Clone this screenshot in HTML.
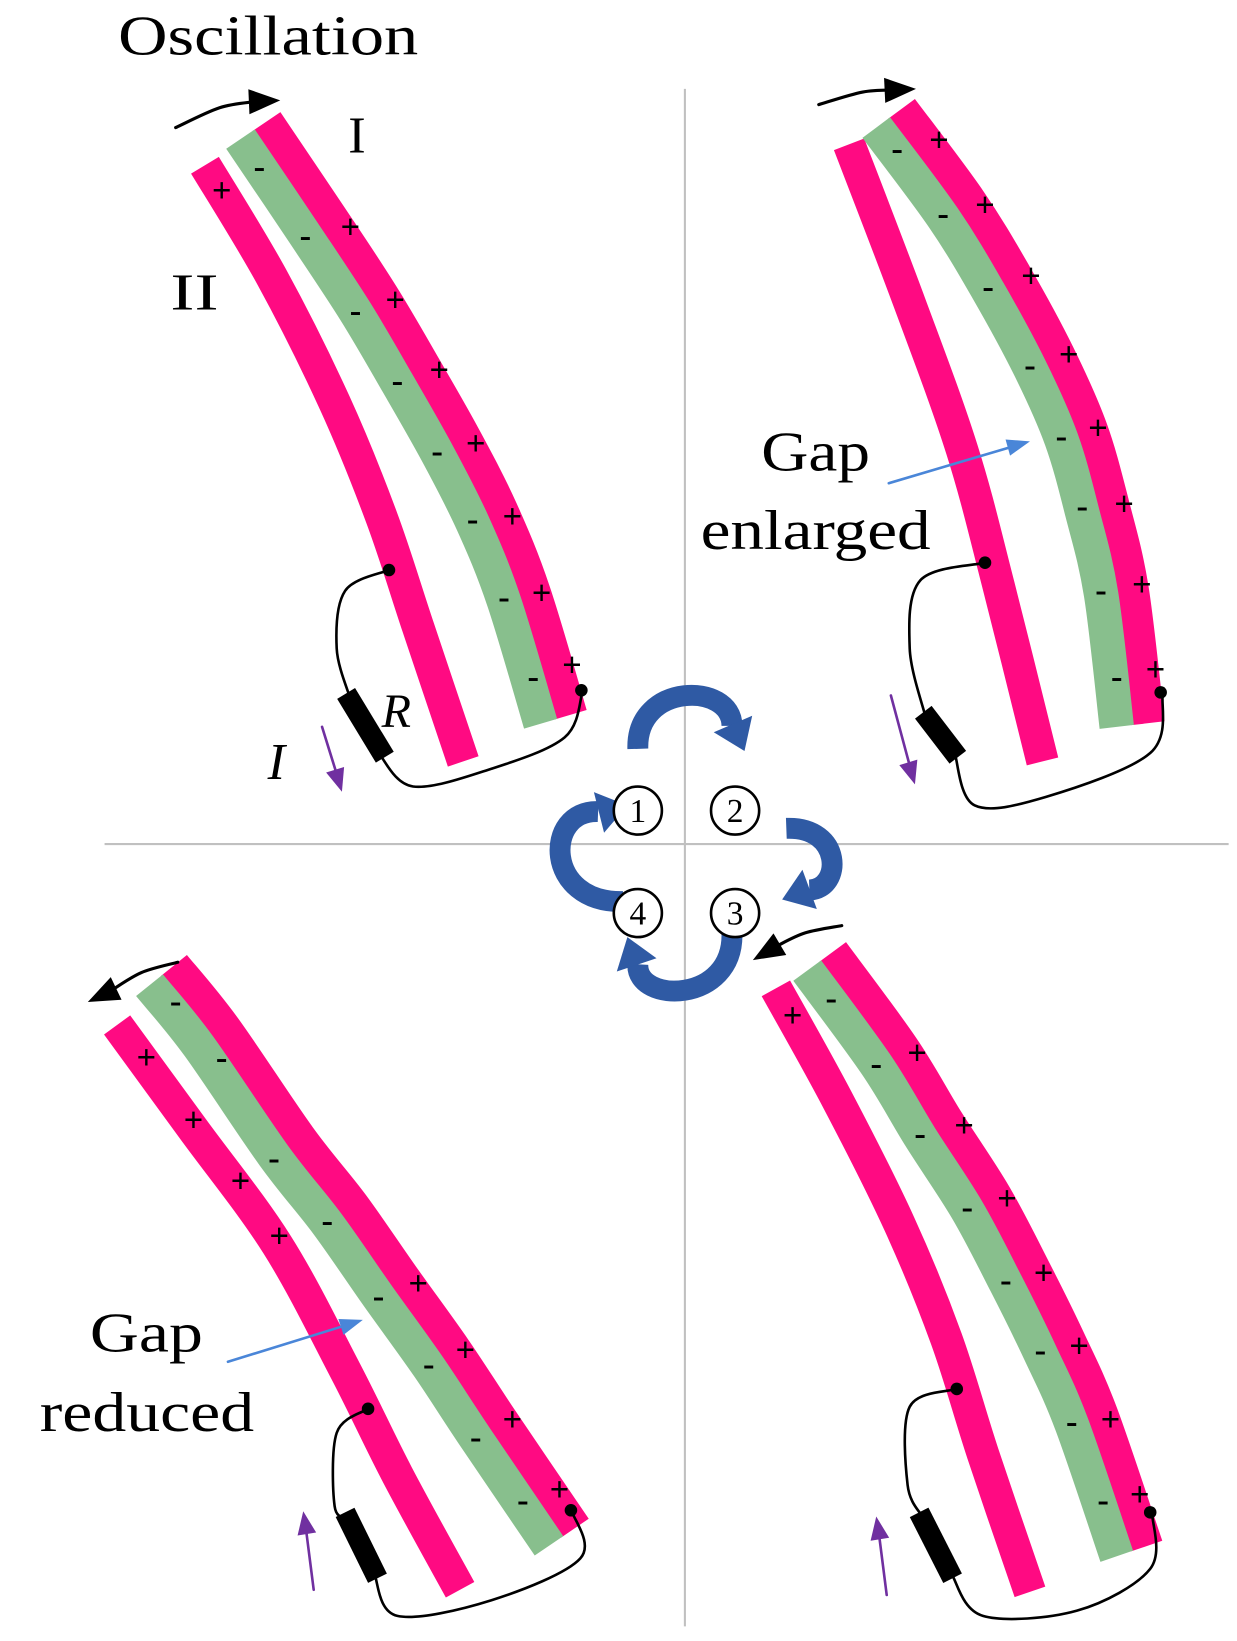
<!DOCTYPE html>
<html><head><meta charset="utf-8">
<style>
html,body{margin:0;padding:0;background:#fff;}
svg{display:block;}
text{font-family:"Liberation Serif",serif;}
</style></head>
<body>
<svg id="fig" width="1237" height="1641" viewBox="0 0 1183 1569" preserveAspectRatio="none" xmlns="http://www.w3.org/2000/svg">
<rect width="1183" height="1569" fill="#fff"/>
<line x1="655" y1="85" x2="655" y2="1555" stroke="#c0c0c0" stroke-width="2"/>
<line x1="100" y1="807" x2="1175" y2="807" stroke="#c0c0c0" stroke-width="2"/>
<g id="layer"></g>
<text x="113" y="52" font-size="54" textLength="287" lengthAdjust="spacingAndGlyphs">Oscillation</text>
<text x="333" y="146" font-size="50">I</text>
<text x="163" y="296" font-size="50" textLength="46" lengthAdjust="spacingAndGlyphs">II</text>
<text x="365" y="695" font-size="46" font-style="italic">R</text>
<text x="256" y="745" font-size="50" font-style="italic">I</text>
<text x="728" y="450" font-size="54" textLength="104" lengthAdjust="spacingAndGlyphs">Gap</text>
<text x="670" y="525" font-size="54" textLength="220" lengthAdjust="spacingAndGlyphs">enlarged</text>
<text x="86" y="1292" font-size="54" textLength="108" lengthAdjust="spacingAndGlyphs">Gap</text>
<text x="38" y="1368" font-size="54" textLength="205" lengthAdjust="spacingAndGlyphs">reduced</text>
</svg>
<script>
const NS="http://www.w3.org/2000/svg";
const layer=document.getElementById('layer');
function crPath(p){let d="M"+p[0][0].toFixed(1)+","+p[0][1].toFixed(1);for(let i=0;i<p.length-1;i++){const p0=p[Math.max(0,i-1)],p1=p[i],p2=p[i+1],p3=p[Math.min(p.length-1,i+2)];const c1=[p1[0]+(p2[0]-p0[0])/6,p1[1]+(p2[1]-p0[1])/6],c2=[p2[0]-(p3[0]-p1[0])/6,p2[1]-(p3[1]-p1[1])/6];d+=" C"+c1[0].toFixed(1)+","+c1[1].toFixed(1)+" "+c2[0].toFixed(1)+","+c2[1].toFixed(1)+" "+p2[0].toFixed(1)+","+p2[1].toFixed(1);}return d;}
function offsetPts(p,dist){return p.map((pt,i)=>{const a=p[Math.max(0,i-1)],b=p[Math.min(p.length-1,i+1)];const dx=b[0]-a[0],dy=b[1]-a[1],L=Math.hypot(dx,dy);return [pt[0]+dy/L*dist,pt[1]-dx/L*dist];});}
function mk(tag,attrs,name,inter){const e=document.createElementNS(NS,tag);for(const k in attrs)e.setAttribute(k,attrs[k]);


layer.appendChild(e);return e;}
function strip(pts,color,w,name){mk('path',{d:crPath(pts),fill:'none',stroke:color,'stroke-width':w,'stroke-linecap':'butt','stroke-linejoin':'round'},name,false);}
function head(tip,from,len,wid,color,name){const dx=tip[0]-from[0],dy=tip[1]-from[1],L=Math.hypot(dx,dy),ux=dx/L,uy=dy/L,bx=tip[0]-ux*len,by=tip[1]-uy*len;
mk('polygon',{points:`${tip[0]},${tip[1]} ${bx-uy*wid},${by+ux*wid} ${bx+uy*wid},${by-ux*wid}`,fill:color},name,false);}
function line(pts,color,w,name){mk('path',{d:crPath(pts),fill:'none',stroke:color,'stroke-width':w,'stroke-linecap':'round'},name,false);}
function marks(list,sym,name){list.forEach(p=>{const t=mk('text',{x:p[0],y:p[1]+10,'font-size':33,'font-weight':'bold','text-anchor':'middle','font-family':'Liberation Sans, sans-serif'},name,false);t.textContent=sym;});}
function dot(p,name){mk('circle',{cx:p[0],cy:p[1],r:6,fill:'#000'},name,false);}
function resistor(a,b,name){const dx=b[0]-a[0],dy=b[1]-a[1],L=Math.hypot(dx,dy),ang=Math.atan2(dy,dx)*180/Math.PI;
mk('rect',{x:-L/2,y:-10,width:L,height:20,fill:'#000',transform:`translate(${(a[0]+b[0])/2},${(a[1]+b[1])/2}) rotate(${ang})`},name,false);}

const PINK="#ff0a82",GREEN="#88bf8d",PURPLE="#7030a0",BLUE="#2f5aa4";

const p1_II=[[196,158],[260,265],[320,385],[365,495],[400,600],[443,728]];
const p1_G=[[230,133],[290,222],[340,298],[380,366],[418,433],[452,500],[482,575],[517,692]];
const p1_minus=[[248,160],[292,226],[340,298],[380,365],[418,432],[452,497],[482,572],[510,648]];
const p1_plus=[[335,218],[378,288],[420,355],[455,425],[490,495],[518,568],[547,637]];
const p2_II=[[812,138],[870,290],[920,430],[955,560],[997,728]];
const p2_G=[[838,122],[902,208],[945,278],[985,352],[1015,420],[1035,490],[1053,568],[1068,695]];
const p2_minus=[[858,143],[902,205],[945,275],[985,350],[1015,418],[1035,485],[1053,565],[1068,648]];
const p2_plus=[[898,135],[942,197],[986,265],[1022,340],[1050,410],[1075,483],[1092,560],[1105,641]];
const p3_L=[[112,980],[185,1080],[265,1190],[330,1310],[380,1410],[440,1520]];
const p3_G=[[143,942],[190,1000],[262,1105],[313,1170],[362,1240],[410,1307],[455,1375],[525,1478]];
const p3_minus=[[168,958],[212,1012],[262,1108],[313,1168],[362,1240],[410,1305],[455,1375],[500,1435]];
const p3_plusR=[[400,1228],[445,1292],[490,1358],[535,1425]];
const p3_plusL=[[140,1012],[185,1072],[230,1130],[267,1183]];
const p4_L=[[742,945],[800,1050],[860,1170],[905,1280],[940,1390],[985,1522]];
const p4_G=[[772,928],[838,1018],[880,1087],[925,1157],[962,1227],[995,1294],[1025,1362],[1068,1488]];
const p4_minus=[[795,955],[838,1018],[880,1085],[925,1155],[962,1225],[995,1292],[1025,1360],[1055,1435]];
const p4_plus=[[877,1008],[922,1077],[963,1147],[998,1218],[1032,1288],[1062,1358],[1090,1430]];

function panel(II,G,tag){strip(II,PINK,31,'electrode-ii-'+tag);strip(offsetPts(G,30),PINK,32,'electrode-i-'+tag);strip(G,GREEN,33,'electret-film-'+tag);}

panel(p1_II,p1_G,'p1');
marks(p1_minus,'-','negative-charge-p1');marks(p1_plus,'+','positive-charge-p1');marks([[212,183]],'+','positive-charge-ii-p1');
line([[372,545],[330,565],[322,620],[335,668]],'#000',2.5,'wire-a-p1');line([[362,720],[395,752],[470,735],[540,705],[557,662]],'#000',2.5,'wire-b-p1');
resistor([331,663],[368,724],'resistor-p1');dot([372,545],'contact-ii-p1');dot([556,660],'contact-i-p1');
line([[308,695],[322,740]],PURPLE,2.5,'current-arrow-p1');head([327,757],[318,728],22,9,PURPLE,'current-arrowhead-p1');
line([[168,122],[210,103],[245,97]],'#000',3,'oscillation-arrow-p1');head([268,96],[245,97],30,12,'#000','oscillation-arrowhead-p1');

panel(p2_II,p2_G,'p2');
marks(p2_minus,'-','negative-charge-p2');marks(p2_plus,'+','positive-charge-p2');
line([[942,538],[880,555],[870,620],[885,685]],'#000',2.5,'wire-a-p2');line([[913,720],[932,770],[1000,762],[1100,720],[1112,664]],'#000',2.5,'wire-b-p2');
resistor([883,681],[916,724],'resistor-p2');dot([942,538],'contact-ii-p2');dot([1110,662],'contact-i-p2');
line([[852,665],[870,732]],PURPLE,2.5,'current-arrow-p2');head([875,750],[866,720],22,9,PURPLE,'current-arrowhead-p2');
line([[783,100],[825,88],[855,86]],'#000',3,'oscillation-arrow-p2');head([876,85],[855,86],30,12,'#000','oscillation-arrowhead-p2');
line([[850,462],[965,428]],'#4a86d8',2.5,'gap-arrow-p2');head([985,422],[960,429],22,8,'#4a86d8','gap-arrowhead-p2');

panel(p3_L,p3_G,'p4');
marks(p3_minus,'-','negative-charge-p4');marks(p3_plusR,'+','positive-charge-p4');marks(p3_plusL,'+','positive-charge-ii-p4');
line([[352,1347],[322,1370],[320,1440],[333,1452]],'#000',2.5,'wire-a-p4');line([[358,1505],[380,1545],[470,1530],[555,1490],[547,1445]],'#000',2.5,'wire-b-p4');
resistor([330,1446],[361,1509],'resistor-p4');dot([352,1347],'contact-ii-p4');dot([546,1444],'contact-i-p4');
line([[300,1520],[293,1465]],PURPLE,2.5,'current-arrow-p4');head([290,1445],[294,1470],22,9,PURPLE,'current-arrowhead-p4');
line([[170,920],[135,930],[105,948]],'#000',3,'oscillation-arrow-p4');head([84,958],[105,948],30,12,'#000','oscillation-arrowhead-p4');
line([[218,1302],[328,1268]],'#4a86d8',2.5,'gap-arrow-p4');head([347,1262],[322,1270],22,8,'#4a86d8','gap-arrowhead-p4');

panel(p4_L,p4_G,'p3');
marks(p4_minus,'-','negative-charge-p3');marks(p4_plus,'+','positive-charge-p3');marks([[758,972]],'+','positive-charge-ii-p3');
line([[915,1328],[870,1345],[868,1420],[882,1450]],'#000',2.5,'wire-a-p3');line([[910,1505],[940,1545],[1030,1540],[1100,1500],[1102,1448]],'#000',2.5,'wire-b-p3');
resistor([879,1446],[911,1509],'resistor-p3');dot([915,1328],'contact-ii-p3');dot([1100,1446],'contact-i-p3');
line([[848,1525],[841,1470]],PURPLE,2.5,'current-arrow-p3');head([838,1450],[842,1475],22,9,PURPLE,'current-arrowhead-p3');
line([[805,885],[770,892],[742,905]],'#000',3,'oscillation-arrow-p3');head([720,918],[742,905],30,12,'#000','oscillation-arrowhead-p3');

mk('path',{d:'M610,716 C608,652 700,652 700,694',fill:'none',stroke:BLUE,'stroke-width':20},'cycle-arrow-1-2',false);head([712,718],[700,690],28,20,BLUE,'cycle-arrowhead-1-2');
mk('path',{d:'M752,792 C806,790 806,850 774,851',fill:'none',stroke:BLUE,'stroke-width':20},'cycle-arrow-2-3',false);head([748,860],[778,849],28,20,BLUE,'cycle-arrowhead-2-3');
mk('path',{d:'M700,892 C702,960 608,960 610,922',fill:'none',stroke:BLUE,'stroke-width':20},'cycle-arrow-3-4',false);head([600,896],[610,926],28,20,BLUE,'cycle-arrowhead-3-4');
mk('path',{d:'M596,862 C520,864 520,774 572,776',fill:'none',stroke:BLUE,'stroke-width':20},'cycle-arrow-4-1',false);head([600,770],[568,778],28,20,BLUE,'cycle-arrowhead-4-1');
const circ=[[610,775],[703,775],[703,873],[610,873]];
const cn=['state-1-marker','state-2-marker','state-3-marker','state-4-marker'];
circ.forEach((c,i)=>{mk('circle',{cx:c[0],cy:c[1],r:23,fill:'#fff',stroke:'#000','stroke-width':2.5},cn[i],false);
const t=mk('text',{x:c[0],y:c[1]+11,'font-size':32,'text-anchor':'middle','font-family':'Liberation Sans, sans-serif'},cn[i]+'-number',false);t.textContent=String(i+1);});
</script>
</body></html>
